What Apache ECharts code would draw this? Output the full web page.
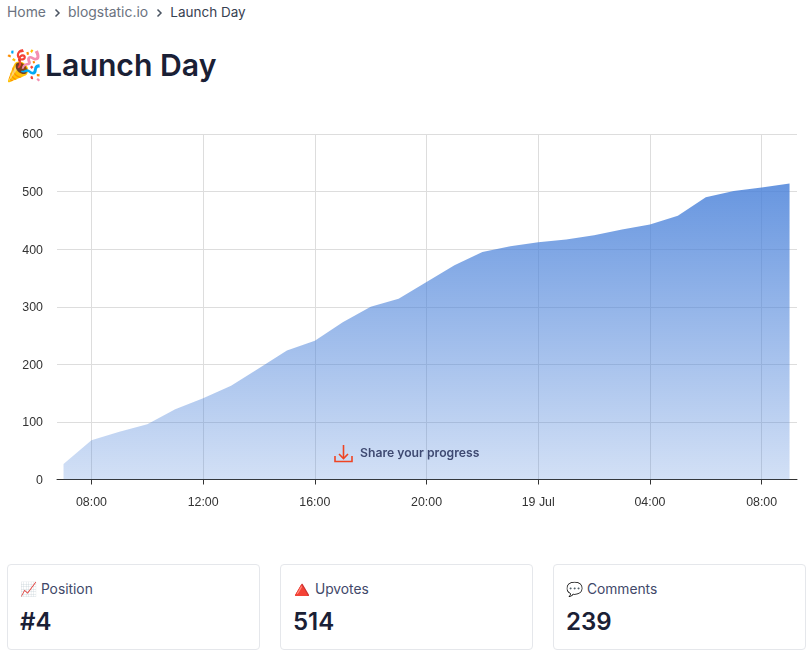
<!DOCTYPE html>
<html><head><meta charset="utf-8">
<style>
html,body{margin:0;padding:0;background:#fff;width:811px;height:655px;overflow:hidden;font-family:Inter,sans-serif}
.abs{position:absolute;white-space:nowrap}
#crumbs{left:7px;top:3px;font-size:13.9px;line-height:18px;color:#6b7280}
#crumbs .sep{display:inline-block;width:22.2px;text-align:center}
#crumbs .sep svg{vertical-align:-1px}
#crumbs b{font-weight:400;color:#374151;font-size:13.5px}
#title{left:5px;top:44px;font-size:30.2px;line-height:42px;font-weight:600;color:#1a2035}
#title span{margin-right:2px}
#chart{position:absolute;left:0;top:110px;width:811px;height:430px}
.card{position:absolute;top:564px;width:253px;height:86px;border:1px solid #e5e7eb;border-radius:4px;box-sizing:border-box;background:#fff}
.card .l{position:absolute;left:12px;top:14px;font-size:13.8px;line-height:20px;color:#414869;white-space:nowrap}
.card .v{position:absolute;left:12px;top:41px;font-size:24px;line-height:32px;font-weight:600;color:#1a2035}
.tri{display:inline-block;font-size:24px;line-height:0;vertical-align:-4px;width:15px;margin-left:-6px;margin-right:9px}
</style></head><body>
<div id="crumbs" class="abs">Home<span class="sep"><svg width="8" height="10" viewBox="0 0 8 10"><path d="M2.5 1.5 L6 5 L2.5 8.5" fill="none" stroke="#4b5563" stroke-width="1.5"/></svg></span>blogstatic.io<span class="sep"><svg width="8" height="10" viewBox="0 0 8 10"><path d="M2.5 1.5 L6 5 L2.5 8.5" fill="none" stroke="#4b5563" stroke-width="1.5"/></svg></span><b>Launch Day</b></div>
<div id="title" class="abs"><span>🎉</span>Launch Day</div>
<div id="chart"></div>
<div class="card" style="left:7px"><div class="l">📈 Position</div><div class="v">#4</div></div>
<div class="card" style="left:280px"><div class="l"><span class="tri">🔺</span> Upvotes</div><div class="v">514</div></div>
<div class="card" style="left:553px"><div class="l">💬 Comments</div><div class="v">239</div></div>
<script src="https://cdn.jsdelivr.net/npm/echarts@6/dist/echarts.min.js"></script>
<script>
const hourOffsets=[0,1,2,3,4,5,6,7,8,9,10,11,12,13,14,15,16,17,18,19,20,21,22,23,24,25,26];
const upvotes=[27,68,83,96,122,141,163,193,224,241,273,300,314,343,372,395,405,412,417,424,434,443,458,490,501,507,514];
const startTime=Date.UTC(2022,6,18,7);
const axisMin=Date.UTC(2022,6,18,6,46);
const axisMax=Date.UTC(2022,6,19,9,16);
const HOUR=3600000;
const points=hourOffsets.map((h,i)=>[startTime+h*HOUR,upvotes[i]]);
const chart=echarts.init(document.getElementById('chart'),null,{renderer:'canvas'});
const axisFont='"Liberation Sans",Arial,sans-serif';
chart.setOption({
 animation:false,useUTC:true,
 grid:{left:57,right:14,top:24,bottom:60.5,containLabel:false},
 xAxis:{type:'time',min:axisMin,max:axisMax,minInterval:4*HOUR,maxInterval:4*HOUR,
  axisLine:{lineStyle:{color:'#333',width:1}},
  axisTick:{show:true,length:5,lineStyle:{color:'#333'}},
  minorTick:{show:false},
  splitLine:{show:true,showMinLine:false,showMaxLine:false,lineStyle:{color:'#ddd',width:1}},
  axisLabel:{color:'#333',fontSize:12.4,fontFamily:axisFont,margin:17,hideOverlap:false,
   formatter:v=>{const d=new Date(v),h=d.getUTCHours();
    return h===0?d.getUTCDate()+' Jul':String(h).padStart(2,'0')+':00';}}},
 yAxis:{type:'value',min:0,max:600,interval:100,
  axisLine:{show:false},axisTick:{show:false},
  splitLine:{lineStyle:{color:'#ddd',width:1}},
  axisLabel:{color:'#333',fontSize:12.4,fontFamily:axisFont,margin:14,verticalAlign:'top',lineHeight:12,padding:[-5,0,0,0]}},
 series:[{type:'line',data:points,showSymbol:false,smooth:false,z:5,
  lineStyle:{width:0},
  areaStyle:{opacity:1,color:new echarts.graphic.LinearGradient(0,0,0,1,[
    {offset:0,color:'rgba(70,127,217,0.82)'},{offset:1,color:'rgba(70,127,217,0.24)'}])}}],
 graphic:[
  {type:'text',z:20,left:360,top:337.5,style:{text:'Share your progress',fill:'#3f4a72',font:'600 12.2px Inter,sans-serif'}},
  {type:'polyline',z:20,shape:{points:[[343.5,335],[343.5,348]]},style:{stroke:'#ef4423',lineWidth:1.6,fill:null}},
  {type:'polyline',z:20,shape:{points:[[339,344],[343.5,348.5],[348,344]]},style:{stroke:'#ef4423',lineWidth:1.6,fill:null}},
  {type:'polyline',z:20,shape:{points:[[335,346],[335,351.5],[352,351.5],[352,346]]},style:{stroke:'#ef4423',lineWidth:1.6,fill:null}}
 ]
});
</script></body></html>
